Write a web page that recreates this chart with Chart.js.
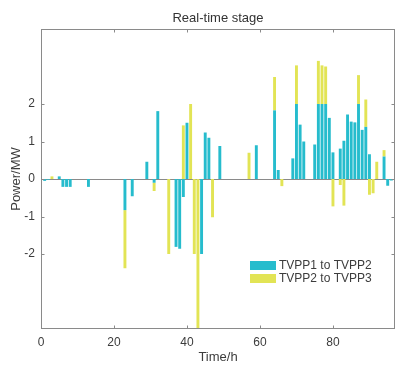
<!DOCTYPE html>
<html>
<head>
<meta charset="utf-8">
<script src="https://cdn.jsdelivr.net/npm/chart.js@4.4.0/dist/chart.umd.min.js"></script>
<style>
	body { margin: 0; background: #fff; }
	#wrap { width: 395px; height: 365px; position: relative; }
</style>
</head>
<body>
<div id="wrap"><canvas id="stageChart"></canvas></div>
<script>
// hours 1..96 of the real-time stage
const hours = Array.from({ length: 96 }, (_, i) => i + 1);

// power exchanged TVPP1 -> TVPP2 (MW)
const tvpp1to2 = [
	-0.05, -0.02, 0, 0, 0.07, -0.21, -0.21, -0.21, 0, 0,
	0, 0, -0.21, 0, 0, 0, 0, 0, 0, 0,
	0, 0, -0.83, 0, -0.46, 0, 0, 0, 0.46, 0,
	-0.1, 1.81, 0, 0, 0, 0, -1.81, -1.86, -0.48, 1.5,
	0, 0, 0, -2.0, 1.24, 1.1, 0, 0, 0.88, 0,
	0, 0, 0, 0, 0, 0, 0, 0, 0.9, 0,
	0, 0, 0, 1.83, 0.24, 0, 0, 0, 0.55, 2.0,
	1.45, 1.0, 0, 0, 0.92, 2.0, 2.0, 2.0, 1.63, 0.71,
	0, 0.81, 1.02, 1.72, 1.53, 1.51, 2.0, 1.31, 1.39, 0.66,
	0, 0, 0, 0.6, -0.18, -0.04
];

// power exchanged TVPP2 -> TVPP3 (MW)
const tvpp2to3 = [
	0, 0, 0.07, 0, 0, 0, 0, 0, 0, 0,
	0, 0, 0, 0, 0, 0, 0, 0, 0, 0,
	0, 0, -1.55, 0, 0, 0, 0, 0, 0, 0,
	-0.22, 0, 0, 0, -2.0, 0, 0, 0, 1.43, 0,
	2.0, -2.0, -4.0, 0, 0, 0, -1.02, 0, 0, 0,
	0, 0, 0, 0, 0, 0, 0.7, 0, 0, 0,
	0, 0, 0, 0.89, 0, -0.19, 0, 0, 0, 1.03,
	0, 0, 0, 0, 0, 1.15, 1.03, 1.0, 0, -0.73,
	0, -0.16, -0.71, 0, 0, 0, 0.77, 0, 0.73, -0.42,
	-0.38, 0.46, 0, 0.17, 0, 0
];

const seriesNames = ["TVPP1 to TVPP2", "TVPP2 to TVPP3"];
const xTicks = [0, 20, 40, 60, 80];
const yTicks = [-2, -1, 0, 1, 2];

const cyan = "#26bccd";
const yellow = "#e2e455";
const axisGray = "#8a8a8a";
const textColor = "#3c3c3c";
const fontName = "'Liberation Sans', Arial, sans-serif";

// box, inward ticks, zero line, title and legend like matlab
const matlabLook = {
	id: "matlabLook",
	beforeDatasetsDraw(chart) {
		const { ctx, chartArea: a, scales: { y } } = chart;
		const y0 = Math.round(y.getPixelForValue(0)) + 0.5;
		ctx.save();
		ctx.strokeStyle = axisGray;
		ctx.lineWidth = 1;
		ctx.beginPath();
		ctx.moveTo(a.left, y0);
		ctx.lineTo(a.right, y0);
		ctx.stroke();
		ctx.restore();
	},
	afterDatasetsDraw(chart) {
		const { ctx, chartArea: a, scales: { x, y } } = chart;
		const tl = 3.5;
		ctx.save();
		ctx.strokeStyle = axisGray;
		ctx.lineWidth = 1;
		ctx.strokeRect(a.left + 0.5, a.top + 0.5, a.right - a.left - 1, a.bottom - a.top - 1);
		ctx.beginPath();
		for (let v of xTicks) {
			const px = Math.round(x.getPixelForValue(v)) + 0.5;
			ctx.moveTo(px, a.bottom);
			ctx.lineTo(px, a.bottom - tl);
			ctx.moveTo(px, a.top);
			ctx.lineTo(px, a.top + tl);
		}
		for (let v of yTicks) {
			const py = Math.round(y.getPixelForValue(v)) + 0.5;
			ctx.moveTo(a.left, py);
			ctx.lineTo(a.left + tl, py);
			ctx.moveTo(a.right, py);
			ctx.lineTo(a.right - tl, py);
		}
		ctx.stroke();
		ctx.restore();
	},
	afterDraw(chart) {
		const { ctx, chartArea: a } = chart;
		ctx.save();
		// title
		ctx.fillStyle = "#333";
		ctx.font = "13px " + fontName;
		ctx.textAlign = "center";
		ctx.textBaseline = "middle";
		ctx.fillText("Real-time stage", (a.left + a.right) / 2, 18);
		// legend
		const colors = [cyan, yellow];
		ctx.font = "12px " + fontName;
		ctx.textAlign = "left";
		for (let i = 0; i < seriesNames.length; i++) {
			const top = 261 + i * 13;
			ctx.fillStyle = colors[i];
			ctx.fillRect(250, top, 26, 9);
			ctx.fillStyle = textColor;
			ctx.fillText(seriesNames[i], 279, top + 5);
		}
		ctx.restore();
	}
};

const ctx = document.getElementById("stageChart").getContext("2d");
const stageChart = new Chart(ctx, {
	type: "bar",
	data: {
		datasets: [
			{
				label: seriesNames[0],
				data: hours.map((h, i) => ({ x: h, y: tvpp1to2[i] })),
				backgroundColor: cyan,
				borderWidth: 0
			},
			{
				label: seriesNames[1],
				data: hours.map((h, i) => ({ x: h, y: tvpp2to3[i] })),
				backgroundColor: yellow,
				borderWidth: 0
			}
		]
	},
	plugins: [matlabLook],
	options: {
		responsive: true,
		maintainAspectRatio: false,
		animation: false,
		layout: { padding: { top: 29, right: 0, left: 0, bottom: 0 } },
		barPercentage: 0.8,
		categoryPercentage: 1,
		plugins: {
			legend: { display: false },
			tooltip: { enabled: false },
			title: { display: false }
		},
		scales: {
			x: {
				type: "linear",
				stacked: true,
				offset: false,
				min: 0,
				max: 97,
				afterBuildTicks: (s) => { s.ticks = xTicks.map((v) => ({ value: v })); },
				afterFit: (s) => { s.height = 36; },
				grid: { display: false, drawTicks: false, offset: false },
				border: { display: false },
				ticks: {
					padding: 6,
					maxRotation: 0,
					color: textColor,
					font: { family: fontName, size: 12 }
				},
				title: {
					display: true,
					text: "Time/h",
					color: textColor,
					padding: { top: 0, bottom: 0 },
					font: { family: fontName, size: 13 }
				}
			},
			y: {
				stacked: true,
				min: -4,
				max: 4,
				afterBuildTicks: (s) => { s.ticks = yTicks.map((v) => ({ value: v })); },
				afterFit: (s) => { s.width = 41; },
				grid: { display: false, drawTicks: false },
				border: { display: false },
				ticks: {
					padding: 6,
					color: textColor,
					font: { family: fontName, size: 12 }
				},
				title: {
					display: true,
					text: "Power/MW",
					color: textColor,
					padding: { top: 9, bottom: 0 },
					font: { family: fontName, size: 13 }
				}
			}
		}
	}
});
</script>
</body>
</html>
